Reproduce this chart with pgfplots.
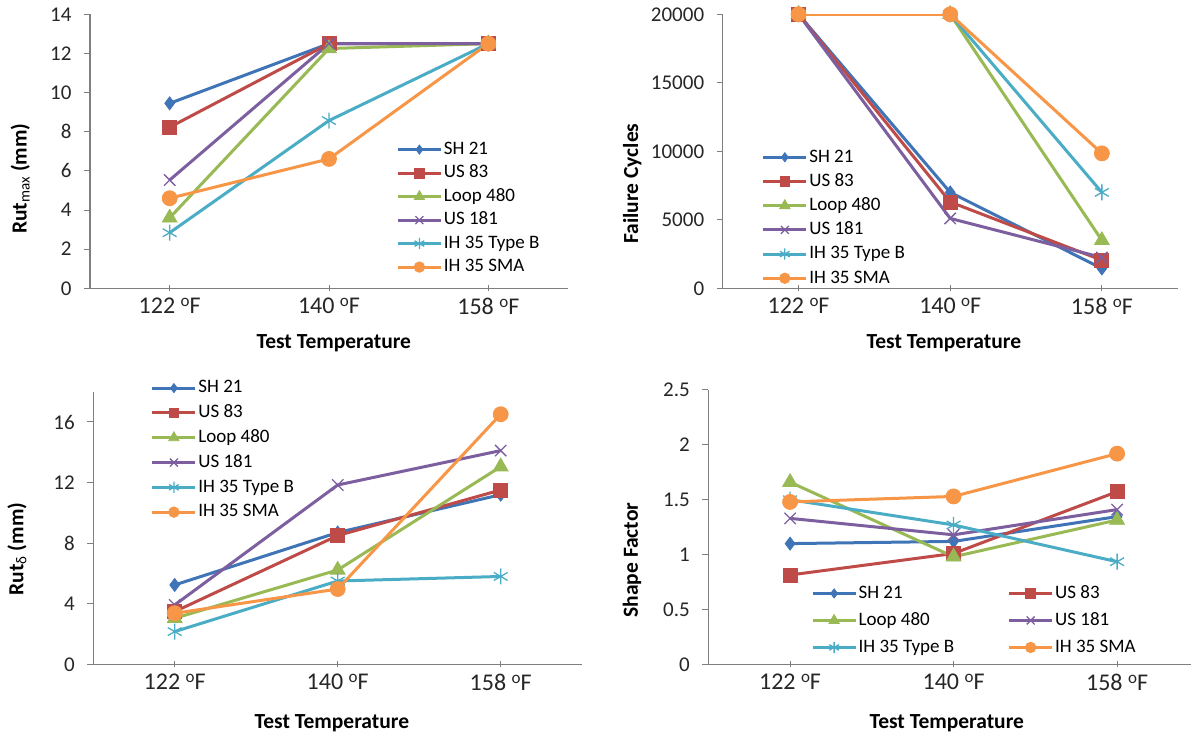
\documentclass[border=0pt]{standalone}
\usepackage{fontspec}
\setmainfont{Carlito}
\usepackage{pgfplots}
\usepackage{pgfplotstable}
\pgfplotsset{compat=1.18}

\definecolor{cA}{HTML}{3F74B7}
\definecolor{cB}{HTML}{BE4B48}
\definecolor{cC}{HTML}{98B954}
\definecolor{cD}{HTML}{7D5FA0}
\definecolor{cE}{HTML}{4AACC5}
\definecolor{cF}{HTML}{F79646}
\definecolor{axisgray}{HTML}{7F7F7F}

% Rut_max (mm)
\pgfplotstableread{
x a b c d e f
0 9.45 8.23 3.6 5.53 2.84 4.6
1 12.5 12.5 12.25 12.5 8.57 6.61
2 12.5 12.5 12.5 12.5 12.5 12.5
}\tA
% Failure cycles
\pgfplotstableread{
x a b c d e f
0 20000 20000 20000 20000 20000 20000
1 7000 6300 20000 5100 20000 20000
2 1450 2050 3500 2250 7000 9850
}\tB
% Rut_delta (mm)
\pgfplotstableread{
x a b c d e f
0 5.24 3.48 3.04 3.92 2.16 3.37
1 8.7 8.5 6.23 11.84 5.5 4.97
2 11.2 11.51 13.05 14.11 5.8 16.51
}\tC
% Shape factor
\pgfplotstableread{
x a b c d e f
0 1.10 0.814 1.66 1.33 1.50 1.48
1 1.12 1.01 0.98 1.18 1.27 1.53
2 1.346 1.573 1.315 1.41 0.935 1.92
}\tD

\newcommand{\degF}{ \raisebox{7pt}{\fontsize{17}{17}\selectfont o}F}

\pgfplotsset{
  panel/.style={
    scale only axis,
    axis x line=bottom, axis y line=left,
    axis line style={-, draw=axisgray, line width=1.2pt},
    xmin=-0.5, xmax=2.5,
    xtick={0,1,2},
    xticklabels={122\degF,140\degF,158\degF},
    xtick align=center, ytick align=outside,
    major tick length=6pt,
    tick style={draw=axisgray, line width=1pt},
    xticklabel style={font=\fontsize{24}{28}\selectfont, text=black!85, yshift=-3pt},
    yticklabel style={font=\fontsize{21}{25}\selectfont, text=black!85, xshift=-9pt},
    /pgf/number format/assume math mode=true,
    /pgf/number format/1000 sep={},
    label style={font=\bfseries\fontsize{21.5}{25}\selectfont},
    xlabel={Test Temperature},
    legend style={draw=none, fill=none, inner sep=0pt, outer sep=0pt, anchor=north west,
      font=\fontsize{19}{22}\selectfont,
      nodes={inner xsep=1.5pt, inner ysep=0pt, text height=14pt, text depth=4.5pt}},
    legend cell align=left,
    legend image code/.code={\draw[mark repeat=2,mark phase=2] plot coordinates {(0pt,0pt) (21.5pt,0pt) (43pt,0pt)};},
    legend image post style={every mark/.append style={scale=0.7}},
  },
  sA/.style={color=cA, line width=3pt, mark=diamond*, mark size=6.5pt, mark options={solid, line width=0.8pt}},
  sB/.style={color=cB, line width=3pt, mark=square*, mark size=7pt, mark options={solid, line width=0.8pt}},
  sC/.style={color=cC, line width=3pt, mark=triangle*, mark size=8.5pt, mark options={solid, line width=0.8pt}},
  sD/.style={color=cD, line width=3pt, mark=x, mark size=8pt, mark options={solid, line width=1.3pt}},
  sE/.style={color=cE, line width=3pt, mark=asterisk, mark size=8pt, mark options={solid, line width=1.3pt}},
  sF/.style={color=cF, line width=3pt, mark=*, mark size=7.5pt, mark options={solid, line width=0.8pt}},
}

\begin{document}
\begin{tikzpicture}
\path[use as bounding box] (0pt,0pt) rectangle (1191pt,736pt);

% ---------- Panel 1: Rut_max ----------
\begin{axis}[panel,
  at={(90pt,447.7pt)}, anchor=south west,
  width=478pt, height=274pt,
  ymin=0, ymax=14, ytick={0,2,...,14},
  xlabel style={at={(axis description cs:0.51,-0.2)}, anchor=center},
  ylabel={Rut\textsubscript{\mdseries max} (mm)},
  ylabel style={at={(axis description cs:-0.146,0.40)}, anchor=center},
  legend style={at={(axis description cs:0.641,0.540)}, row sep=5pt},
]
\addplot[sA] table[x=x,y=a]{\tA};
\addplot[sB] table[x=x,y=b]{\tA};
\addplot[sC] table[x=x,y=c]{\tA};
\addplot[sD] table[x=x,y=d]{\tA};
\addplot[sE] table[x=x,y=e]{\tA};
\addplot[sF] table[x=x,y=f]{\tA};
\legend{SH 21,US 83,Loop 480,US 181,IH 35 Type B,IH 35 SMA}
\end{axis}

% ---------- Panel 2: Failure cycles ----------
\begin{axis}[panel,
  at={(722.7pt,447.7pt)}, anchor=south west,
  width=455pt, height=274pt,
  ymin=0, ymax=20000, ytick={0,5000,...,20000},
  scaled y ticks=false,
  xlabel style={at={(axis description cs:0.486,-0.2)}, anchor=center},
  ylabel={Failure Cycles},
  ylabel style={at={(axis description cs:-0.199,0.382)}, anchor=center},
  legend style={at={(axis description cs:0.086,0.512)}, row sep=5.7pt},
]
\addplot[sA] table[x=x,y=a]{\tB};
\addplot[sB] table[x=x,y=b]{\tB};
\addplot[sC] table[x=x,y=c]{\tB};
\addplot[sD] table[x=x,y=d]{\tB};
\addplot[sE] table[x=x,y=e]{\tB};
\addplot[sF] table[x=x,y=f]{\tB};
\legend{SH 21,US 83,Loop 480,US 181,IH 35 Type B,IH 35 SMA}
\end{axis}

% ---------- Panel 3: Rut_delta ----------
\begin{axis}[panel,
  at={(93.2pt,71.7pt)}, anchor=south west,
  width=489pt, height=272.6pt,
  ymin=0, ymax=18, ytick={0,4,...,16},
  xlabel style={at={(axis description cs:0.488,-0.216)}, anchor=center},
  ylabel={Rut\textsubscript{\mdseries δ} (mm)},
  ylabel style={at={(axis description cs:-0.156,0.423)}, anchor=center},
  legend style={at={(axis description cs:0.118,1.047)}, row sep=6.3pt},
]
\addplot[sA] table[x=x,y=a]{\tC};
\addplot[sB] table[x=x,y=b]{\tC};
\addplot[sC] table[x=x,y=c]{\tC};
\addplot[sD] table[x=x,y=d]{\tC};
\addplot[sE] table[x=x,y=e]{\tC};
\addplot[sF] table[x=x,y=f]{\tC};
\legend{SH 21,US 83,Loop 480,US 181,IH 35 Type B,IH 35 SMA}
\end{axis}

% ---------- Panel 4: Shape factor ----------
\begin{axis}[panel,
  at={(708.3pt,71.7pt)}, anchor=south west,
  width=482.7pt, height=274.3pt,
  xmax=2.452,
  ymin=0, ymax=2.5, ytick={0,0.5,...,2.5},
  xlabel style={at={(axis description cs:0.494,-0.215)}, anchor=center},
  ylabel={Shape Factor},
  ylabel style={at={(axis description cs:-0.158,0.38)}, anchor=center},
  legend columns=2,
  legend style={at={(axis description cs:0.213,0.292)}, row sep=8.5pt,
    /tikz/every even column/.append style={column sep=52pt}},
]
\addplot[sA] table[x=x,y=a]{\tD};
\addplot[sB] table[x=x,y=b]{\tD};
\addplot[sC] table[x=x,y=c]{\tD};
\addplot[sD] table[x=x,y=d]{\tD};
\addplot[sE] table[x=x,y=e]{\tD};
\addplot[sF] table[x=x,y=f]{\tD};
\legend{SH 21,US 83,Loop 480,US 181,IH 35 Type B,IH 35 SMA}
\end{axis}
\end{tikzpicture}
\end{document}
